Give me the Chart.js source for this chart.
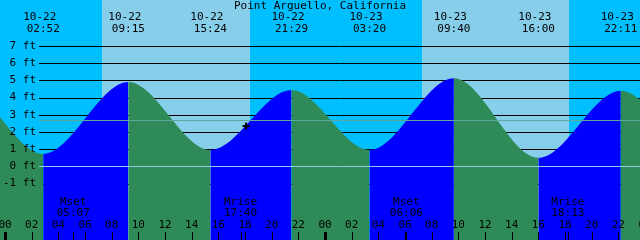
<!DOCTYPE html>
<html>
<head>
<meta charset="utf-8">
<script src="https://cdn.jsdelivr.net/npm/chart.js@4/dist/chart.umd.min.js"></script>
<style>
    html, body { margin: 0; padding: 0; background: #00BFFF; }
    canvas { display: block; }
</style>
</head>
<body>
<canvas id="tide-chart" width="640" height="240"></canvas>
<script>
// ==========================================================================
// 1. DATA
// ==========================================================================
const stationName = 'Point Arguello, California';

// Tide extremes. The first two and last two are off-screen, they only shape the curve.
const tideDates   = ['10-21', '10-21', '10-22', '10-22', '10-22', '10-22', '10-23', '10-23', '10-23', '10-23', '10-24', '10-24'];
const tideTimes   = ['14:42', '20:54', '02:52', '09:15', '15:24', '21:29', '03:20', '09:40', '16:00', '22:11', '03:50', '10:10'];
const tideHeights = [0.9, 4.5, 0.72, 4.90, 0.95, 4.44, 0.95, 5.12, 0.50, 4.40, 1.1, 5.0];
const tideLabeled = [false, false, true, true, true, true, true, true, true, true, false, false];

// Sunrise / sunset pairs
const sunDates = ['10-22', '10-22', '10-23', '10-23'];
const sunTimes = ['07:16', '18:22', '07:17', '18:18'];

const moonEvents = ['Mset', 'Mrise', 'Mset', 'Mrise'];
const moonDates  = ['10-22', '10-22', '10-23', '10-23'];
const moonTimes  = ['05:07', '17:40', '06:06', '18:13'];

// Current time marker
const markDate   = '10-22';
const markTime   = '18:05';
const markHeight = 2.34;

const meanLevel   = 2.68;
const heightTicks = [7, 6, 5, 4, 3, 2, 1, 0, -1];
const hourTicks   = [0, 2, 4, 6, 8, 10, 12, 14, 16, 18, 20, 22, 24, 26, 28, 30, 32, 34, 36, 38, 40, 42, 44, 46, 48];
const hourLabels  = ['00', '02', '04', '06', '08', '10', '12', '14', '16', '18', '20', '22',
                     '00', '02', '04', '06', '08', '10', '12', '14', '16', '18', '20', '22', '00'];

// ==========================================================================
// 2. CONFIG
// ==========================================================================
const colors = {
    night: '#00BFFF',
    day:   '#87CEEB',
    rise:  '#0000FF',
    fall:  '#2E8B57',
    msl:   '#5FA8A0',
    datum: '#8ECBE8',
    text:  '#000000'
};
const FONT = '11px "DejaVu Sans Mono", "Liberation Mono", monospace';
const GRID_LEFT = 39;

// hours counted from 10-22 00:00
const _toHours = (date, time) => {
    const day = parseInt(date.split('-')[1]) - 22;
    const [hh, mm] = time.split(':').map(Number);
    return day * 24 + hh + mm / 60;
};

const tidePoints = tideTimes.map((t, i) => ({ x: _toHours(tideDates[i], t), y: tideHeights[i] }));

// ==========================================================================
// 3. PLUGINS
// ==========================================================================
const _hLine = (ctx, y, x0, x1, color) => {
    const py = Math.round(y) + 0.5;
    ctx.strokeStyle = color;
    ctx.lineWidth = 1;
    ctx.beginPath();
    ctx.moveTo(x0, py);
    ctx.lineTo(x1, py);
    ctx.stroke();
};

const tideBackground = {
    id: 'tideBackground',
    beforeDatasetsDraw: (chart) => {
        const { ctx, chartArea: a, scales: { x, y } } = chart;
        ctx.save();
        ctx.fillStyle = colors.night;
        ctx.fillRect(a.left, a.top, a.right - a.left, a.bottom - a.top);

        ctx.fillStyle = colors.day;
        for (let i = 0; i < sunTimes.length; i += 2) {
            const x0 = Math.round(x.getPixelForValue(_toHours(sunDates[i], sunTimes[i])));
            const x1 = Math.round(x.getPixelForValue(_toHours(sunDates[i + 1], sunTimes[i + 1])));
            ctx.fillRect(x0, a.top, x1 - x0, a.bottom - a.top);
        }

        heightTicks.forEach(h => {
            if (h !== 0) _hLine(ctx, y.getPixelForValue(h), GRID_LEFT, a.right, '#000');
        });
        ctx.restore();
    }
};

const tideOverlay = {
    id: 'tideOverlay',
    afterDatasetsDraw: (chart) => {
        const { ctx, chartArea: a, scales: { x, y } } = chart;
        ctx.save();

        _hLine(ctx, y.getPixelForValue(meanLevel), GRID_LEFT, a.right, colors.msl);
        _hLine(ctx, y.getPixelForValue(0), GRID_LEFT, a.right, colors.datum);

        ctx.font = FONT;
        ctx.fillStyle = colors.text;
        ctx.textBaseline = 'middle';

        // height labels
        ctx.textAlign = 'right';
        heightTicks.forEach(h => ctx.fillText(`${h} ft`, 36, y.getPixelForValue(h)));

        // title + tide extreme labels
        ctx.textAlign = 'center';
        ctx.fillText(stationName, 320, 6);
        tidePoints.forEach((p, i) => {
            if (!tideLabeled[i]) return;
            const px = x.getPixelForValue(p.x);
            ctx.fillText(tideDates[i], px - 3.5, 17.5);
            ctx.fillText(tideTimes[i], px, 29);
        });

        // moon events
        moonEvents.forEach((label, i) => {
            const px = x.getPixelForValue(_toHours(moonDates[i], moonTimes[i]));
            ctx.fillText(label, px, 202);
            ctx.fillText(moonTimes[i], px, 213);
            ctx.fillRect(Math.round(px), 232, 1, 8);
        });

        // hour axis
        hourTicks.forEach((h, i) => {
            const px = x.getPixelForValue(h);
            ctx.fillText(hourLabels[i], px, 225.5);
            if (h % 24 === 0) ctx.fillRect(Math.round(px) - 1, 232, 3, 8);
            else ctx.fillRect(Math.round(px), 232, 1, 8);
        });

        ctx.restore();
    }
};

// ==========================================================================
// 4. CHART
// ==========================================================================
new Chart(document.getElementById('tide-chart'), {
    type: 'line',
    data: {
        datasets: [
            {
                type: 'scatter',
                data: [{ x: _toHours(markDate, markTime), y: markHeight }],
                pointStyle: 'cross',
                pointRotation: 0,
                pointRadius: 3.5,
                borderColor: '#000',
                borderWidth: 2,
                order: 0
            },
            {
                data: tidePoints,
                fill: 'start',
                backgroundColor: colors.fall,
                borderColor: 'rgba(0,0,0,0)',
                borderWidth: 0,
                pointRadius: 0,
                cubicInterpolationMode: 'monotone',
                segment: {
                    backgroundColor: c => c.p1.parsed.y > c.p0.parsed.y ? colors.rise : colors.fall
                },
                order: 1
            }
        ]
    },
    options: {
        responsive: false,
        animation: false,
        events: [],
        layout: { autoPadding: false, padding: 0 },
        plugins: { legend: { display: false }, tooltip: { enabled: false } },
        scales: {
            x: { type: 'linear', min: -0.375, max: 47.625, display: false },
            y: { min: -4.28, max: 9.67, display: false }
        }
    },
    plugins: [tideBackground, tideOverlay]
});
</script>
</body>
</html>
